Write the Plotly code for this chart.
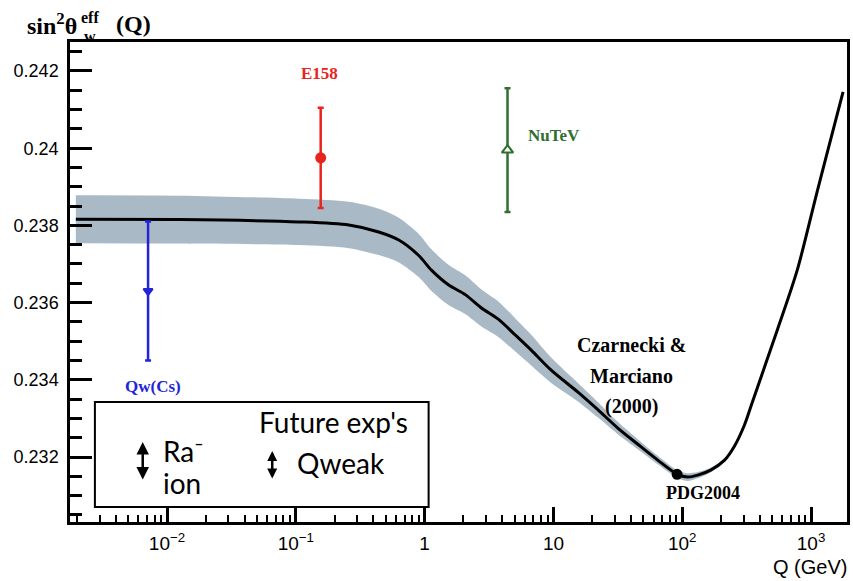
import plotly.graph_objects as go

# ---------------- data ----------------
Q_curve = [0.00196, 0.0125, 0.106, 0.258, 0.44, 0.63, 0.90, 1.13, 1.53, 2.08,
           2.76, 3.73, 5.06, 6.72, 9.6, 15.5, 22.2, 31.6, 45.2, 64.5,
           92, 110, 132, 166, 213, 254, 304, 350, 547, 781,
           1114, 1592, 1772]
s2w_curve = [0.23816, 0.23815, 0.23809, 0.23801, 0.23783, 0.23762, 0.23722, 0.23684, 0.23646, 0.23620,
             0.23586, 0.23557, 0.23516, 0.23477, 0.23425, 0.23368, 0.23322, 0.23275, 0.23233, 0.23192,
             0.23155, 0.23148, 0.23153, 0.23166, 0.23192, 0.23228, 0.23283, 0.23342, 0.23529, 0.23684,
             0.23887, 0.24086, 0.24146]
# theory uncertainty band (half width), for the first points of the curve
band_halfwidth = [0.00062, 0.00062, 0.0006, 0.0006, 0.0006, 0.00058, 0.00056, 0.00054, 0.00052, 0.0005,
                  0.00048, 0.00046, 0.00043, 0.0004, 0.00033, 0.00024, 0.0002, 0.00016, 0.00013, 0.00011,
                  0.0001, 0.0001, 0.00008, 0.00006, 0.00003]

exp_names = ["Qw(Cs)", "E158", "NuTeV", "PDG2004"]
exp_Q = [0.00713, 0.156, 4.4, 91.2]
exp_s2w = [0.2363, 0.23975, 0.23995, 0.23155]
exp_err = [0.0018, 0.0013, 0.0016, 0.0]

y_tick_vals = [0.232, 0.234, 0.236, 0.238, 0.240, 0.242]
y_tick_text = ["0.232", "0.234", "0.236", "0.238", "0.24", "0.242"]
y_minor_vals = [0.2305 + 0.0005 * i for i in range(25)]
x_tick_vals = [0.01, 0.1, 1, 10, 100, 1000]
x_tick_text = ["10<sup>\u22122</sup>", "10<sup>\u22121</sup>", "1", "10", "10<sup>2</sup>", "10<sup>3</sup>"]
x_minor_vals = [m * 10 ** e for e in range(-3, 4) for m in range(2, 10)]

# ---------------- figure ----------------
W, H = 853, 581
L, R, T, B = 70, 3, 42, 59
PW, PH = W - L - R, H - T - B


def px(x):
    return (x - L) / PW


def py(y):
    return (H - B - y) / PH


fig = go.Figure()

nb = len(band_halfwidth)
band_lo = [s2w_curve[i] - band_halfwidth[i] for i in range(nb)]
band_hi = [s2w_curve[i] + band_halfwidth[i] for i in range(nb)]
band_color = "#a9bac6"
fig.add_trace(go.Scatter(x=Q_curve[:nb], y=band_lo, mode="lines",
                         line=dict(color=band_color, width=0, shape="spline", smoothing=0.8),
                         showlegend=False, hoverinfo="skip"))
fig.add_trace(go.Scatter(x=Q_curve[:nb], y=band_hi, mode="lines", fill="tonexty",
                         fillcolor=band_color,
                         line=dict(color=band_color, width=0, shape="spline", smoothing=0.8),
                         showlegend=False, hoverinfo="skip"))
fig.add_trace(go.Scatter(x=Q_curve, y=s2w_curve, mode="lines",
                         line=dict(color="black", width=3, shape="spline", smoothing=0.8),
                         showlegend=False))

colors = ["#2323d8", "#e8241c", "#2f6f2f", "black"]
symbols = ["triangle-down", "circle", "triangle-up", "circle"]
fills = ["#2323d8", "#e8241c", "white", "black"]
sizes = [8, 9, 10, 9]
for i in range(4):
    fig.add_trace(go.Scatter(
        x=[exp_Q[i]], y=[exp_s2w[i]], mode="markers",
        marker=dict(color=fills[i], symbol=symbols[i],
                    size=sizes[i], line=dict(color=colors[i], width=2)),
        error_y=dict(type="data", array=[exp_err[i]], visible=exp_err[i] > 0,
                     color=colors[i], thickness=2.5, width=3),
        showlegend=False))

serif = "Liberation Serif, Times New Roman, serif"
sans = "Liberation Sans, Arial, sans-serif"

fig.update_layout(
    width=W, height=H, autosize=False,
    margin=dict(l=L, r=R, t=T, b=B),
    paper_bgcolor="white", plot_bgcolor="white",
    xaxis=dict(type="log", range=[-2.753, 3.279], showgrid=False, zeroline=False,
               showline=True, linecolor="black", linewidth=2.5, mirror=True,
               ticks="inside", ticklen=15, tickwidth=2.5, tickcolor="black",
               tickmode="array", tickvals=x_tick_vals, ticktext=x_tick_text,
               tickfont=dict(family=sans, size=19, color="black"),
               ticklabelstandoff=2,
               minor=dict(tickmode="array", tickvals=x_minor_vals, ticks="inside",
                          ticklen=7, tickwidth=2, tickcolor="black")),
    yaxis=dict(range=[0.230316, 0.242751], showgrid=False, zeroline=False,
               showline=True, linecolor="black", linewidth=2.5, mirror=True,
               ticks="inside", ticklen=22, tickwidth=3, tickcolor="black",
               tickmode="array", tickvals=y_tick_vals, ticktext=y_tick_text,
               tickfont=dict(family=sans, size=18, color="black"),
               ticklabelstandoff=5,
               minor=dict(tickmode="array", tickvals=y_minor_vals, ticks="inside",
                          ticklen=12, tickwidth=2.5, tickcolor="black")),
)

ann = []


def txt(text, x, y, size, color="black", family=serif, xanchor="center", bold=True):
    t = "<b>" + text + "</b>" if bold else text
    ann.append(dict(text=t, x=px(x), y=py(y), xref="paper", yref="paper",
                    xanchor=xanchor, yanchor="middle", showarrow=False,
                    font=dict(family=family, size=size, color=color)))


# axis titles
txt("sin<sup>2</sup>\u03b8", 25, 24, 24, xanchor="left")
txt("eff", 79, 17, 16, xanchor="left")
txt("w", 82, 36, 16, xanchor="left")
txt("(Q)", 114, 24, 24, xanchor="left")
txt("Q (GeV)", 852, 567, 20, family=sans, xanchor="right", bold=False)

# experiment labels
txt(exp_names[0], 153, 386, 17, colors[0])
txt(exp_names[1], 320, 73, 17, colors[1])
txt("NuTeV", 556, 135, 17, colors[2])
txt(exp_names[3], 705, 493, 18)
txt("Czarnecki &", 634, 345, 20)
txt("Marciano", 634, 376, 20)
txt("(2000)", 634, 406, 20)

# future experiments box
fig.add_shape(type="rect", xref="paper", yref="paper",
              x0=px(95), x1=px(430), y0=py(507), y1=py(402),
              line=dict(color="black", width=2), fillcolor="white", layer="above")
lato = "Lato, Open Sans, sans-serif"
txt("Future exp's", 335, 422, 28, family=lato, bold=False)
txt("Ra\u207b", 161, 451, 28, family=lato, xanchor="left", bold=False)
txt("ion", 161, 483, 28, family=lato, xanchor="left", bold=False)
txt("Qweak", 296, 463, 28, family=lato, xanchor="left", bold=False)
for (ax_, y0_, y1_, hs) in [(143, 442, 481, 1.0), (273, 451, 480, 0.8)]:
    ann.append(dict(text="", x=px(ax_), y=py(y0_), xref="paper", yref="paper",
                    ax=0, ay=y1_ - y0_, showarrow=True, arrowside="end+start",
                    arrowhead=2, arrowsize=hs, arrowwidth=2.5, arrowcolor="black"))

fig.update_layout(annotations=ann)
fig.write_html("out.html")
